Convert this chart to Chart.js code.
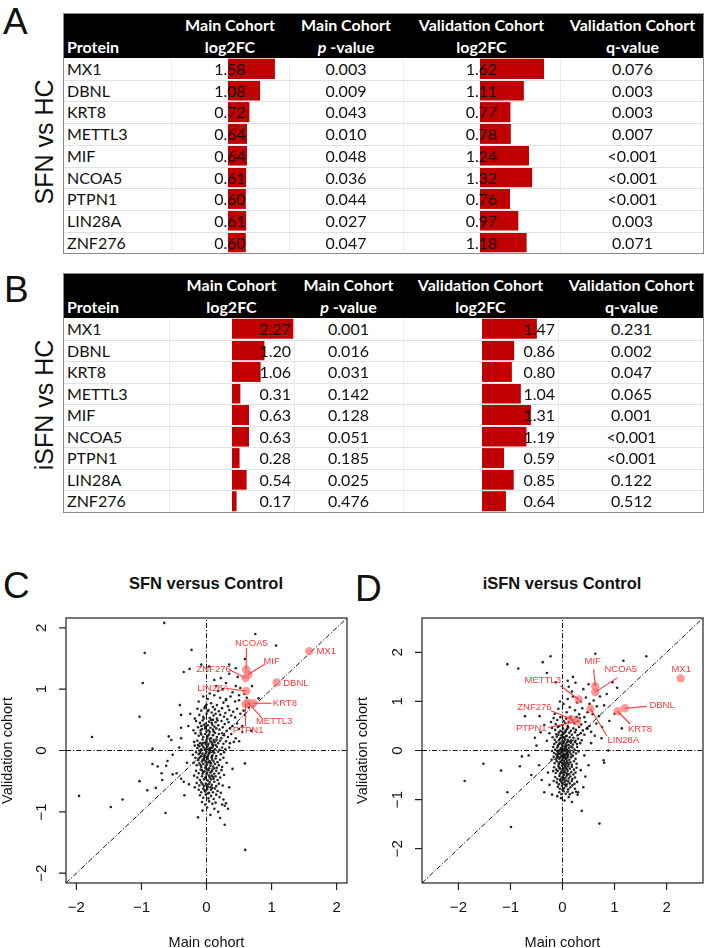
<!DOCTYPE html>
<html>
<head>
<meta charset="utf-8">
<script src="https://cdn.jsdelivr.net/npm/chart.js@4.4.0/dist/chart.umd.min.js"></script>
<style>
  body { margin: 0; width: 709px; height: 948px; position: relative; background: #fff; overflow: hidden; }
  .tbl { position: absolute; left: 63px; width: 641px; border: 1px solid #8a8a8a; box-sizing: border-box; font-family: Lato, "Open Sans", sans-serif; }
  .head { position: absolute; left: 0; top: 0; right: 0; height: 44px; background: #000; }
  .hc { position: absolute; height: 22px; line-height: 22px; color: #fff; font-weight: bold; font-size: 16px; white-space: nowrap; }
  .cell { position: absolute; color: #111; font-size: 16px; white-space: nowrap; z-index: 2; }
  .hline { position: absolute; left: 0; right: 0; height: 1px; background: #dde2e7; z-index: 3; }
  .vline { position: absolute; width: 1px; background: #e9edf1; }
  .bars { position: absolute; z-index: 1; }
  .letter { position: absolute; font-family: "Liberation Sans", Arial, sans-serif; font-size: 37px; color: #111; line-height: 1; }
  .side { position: absolute; font-family: "Liberation Sans", Arial, sans-serif; font-size: 25px; color: #111; transform: rotate(-90deg); transform-origin: center; white-space: nowrap; text-align: center; width: 140px; margin-left: -70px; line-height: 26px; margin-top: -13px; }
  .ptitle { position: absolute; font-family: "Liberation Sans", Arial, sans-serif; font-weight: bold; font-size: 16.5px; color: #111; width: 300px; margin-left: -150px; text-align: center; }
  canvas.sc { position: absolute; }
</style>
</head>
<body>
<div class="letter" style="left:3px;top:3px;">A</div>
<div class="letter" style="left:4px;top:271px;">B</div>
<div class="letter" style="left:3px;top:567px;">C</div>
<div class="letter" style="left:355px;top:570px;">D</div>
<div class="side" style="left:44px;top:142px;">SFN vs HC</div>
<div class="side" style="left:44px;top:405px;">iSFN vs HC</div>
<div class="ptitle" style="left:206px;top:574px;">SFN versus Control</div>
<div class="ptitle" style="left:562px;top:574px;">iSFN versus Control</div>
<canvas id="scC" class="sc" width="352" height="348" style="left:0;top:600px;"></canvas>
<canvas id="scD" class="sc" width="357" height="348" style="left:352px;top:600px;"></canvas>
<script>
const proteins = ['MX1', 'DBNL', 'KRT8', 'METTL3', 'MIF', 'NCOA5', 'PTPN1', 'LIN28A', 'ZNF276'];

// A: SFN vs HC
const sfnMainFC = [1.58, 1.08, 0.72, 0.64, 0.64, 0.61, 0.60, 0.61, 0.60];
const sfnMainP = ['0.003', '0.009', '0.043', '0.010', '0.048', '0.036', '0.044', '0.027', '0.047'];
const sfnValFC = [1.62, 1.11, 0.77, 0.78, 1.24, 1.32, 0.76, 0.97, 1.18];
const sfnValQ = ['0.076', '0.003', '0.003', '0.007', '<0.001', '<0.001', '<0.001', '0.003', '0.071'];

// B: iSFN vs HC
const isfnMainFC = [2.27, 1.20, 1.06, 0.31, 0.63, 0.63, 0.28, 0.54, 0.17];
const isfnMainP = ['0.001', '0.016', '0.031', '0.142', '0.128', '0.051', '0.185', '0.025', '0.476'];
const isfnValFC = [1.47, 0.86, 0.80, 1.04, 1.31, 1.19, 0.59, 0.85, 0.64];
const isfnValQ = ['0.231', '0.002', '0.047', '0.065', '0.001', '<0.001', '<0.001', '0.122', '0.512'];

const scatterTicks = [-2, -1, 0, 1, 2];

// all other proteins (main, validation)
const sfnOthers = [
  [-0.65,2.08],[-0.95,1.59],[-0.23,1.64],[-0.35,1.28],[-0.26,1.33],[-0.98,1.1],[-1.03,0.55],[-1.76,0.22],
  [-0.41,0.74],[-0.39,0.58],[-0.39,0.37],[-0.58,0.23],[-0.54,0.17],[-0.39,0.2],[-0.42,0.05],[-0.83,0.03],
  [-0.52,-0.07],[-0.6,-0.17],[-0.83,-0.22],[-0.75,-0.26],[-0.69,-0.37],[-0.62,-0.25],[-0.52,-0.39],[-0.46,-0.37],
  [-0.68,-0.48],[-1.03,-0.5],[-0.39,-0.46],[-0.35,-0.51],[-0.78,-0.61],[-0.91,-0.65],[-1.96,-0.74],[-0.34,-0.73],
  [-1.29,-0.8],[-1.47,-0.92],[-0.63,-1.02],[-0.13,-1.09],[0.75,1.9],[1.07,1.71],[0.59,1.49],[0.45,1.34],
  [0.04,1.37],[-0.08,1.4],[0.595,-1.62],[0.59,-0.21],[0.28,-1.21],[0.69,0.32],[0.59,0.58],[0.5,0.82],
  [0.3,0.84],[-0.28,0.4],[-0.3,-0.2],[-0.25,0.6],[-0.27,-0.55],[0.35,-0.6],[0.4,-0.3],[0.5,0.15],
  [0.55,0.4],[0.65,0.7],[0.8,0.85],[0.7,1.05],[0.35,1.4],[0.28,-0.9],[0.33,-0.95],
  [-0.05,0.88],[0.02,0.84],[0.12,0.9],[0.21,0.86],[0.3,0.82],[-0.12,0.8],[0.07,0.77],[0.16,0.74],[0.26,0.78],
  [0.37,0.88],[0.44,0.8],[-0.02,0.72],[0.1,0.71],[0.33,0.72],[0.05,0.93],[0.18,0.97],[0.25,1.0],[0.4,0.95],
  [0.5,0.9],[0.15,1.05],[0.3,1.1],[0.45,1.05],[0.52,1.02],[0.58,0.92],[0.62,0.86],[0.22,1.18],[0.35,1.25],
  [0.48,1.2],[0.12,1.15],
  [-0.14,0.68],[-0.08,0.65],[-0.03,0.69],[0.03,0.66],[0.08,0.62],[0.13,0.67],[0.19,0.64],[0.24,0.69],[0.29,0.61],
  [0.35,0.66],[0.41,0.63],[0.47,0.68],[-0.11,0.58],[-0.05,0.55],[0.0,0.6],[0.05,0.53],[0.11,0.57],[0.16,0.52],
  [0.21,0.58],[0.27,0.55],[0.32,0.51],[0.38,0.57],[0.44,0.54],[0.52,0.6],[0.57,0.65],[-0.18,0.52],[0.07,0.5],[0.02,0.64],
  [-0.16,0.48],[-0.1,0.45],[-0.06,0.49],[-0.01,0.44],[0.04,0.47],[0.09,0.42],[0.14,0.46],[0.18,0.41],[0.23,0.48],
  [0.28,0.43],[0.34,0.46],[0.4,0.4],[0.47,0.44],[-0.13,0.38],[-0.07,0.35],[-0.02,0.39],[0.03,0.33],[0.06,0.37],
  [0.11,0.31],[0.15,0.36],[0.2,0.34],[0.25,0.38],[0.31,0.32],[0.36,0.36],[0.5,0.35],[-0.2,0.33],[0.0,0.31],
  [0.08,0.45],[-0.04,0.42],[0.12,0.39],[0.17,0.49],[0.55,0.3],
  [-0.17,0.28],[-0.12,0.24],[-0.09,0.29],[-0.05,0.22],[-0.02,0.27],[0.01,0.21],[0.04,0.26],[0.07,0.2],[0.1,0.25],
  [0.13,0.29],[0.16,0.22],[0.19,0.27],[0.23,0.2],[0.27,0.25],[0.33,0.22],[0.38,0.27],[0.45,0.2],[-0.14,0.16],
  [-0.1,0.12],[-0.06,0.18],[-0.03,0.13],[0.0,0.17],[0.03,0.11],[0.06,0.15],[0.09,0.1],[0.12,0.14],[0.15,0.18],
  [0.18,0.12],[0.21,0.16],[0.26,0.11],[0.3,0.15],[0.36,0.12],[0.42,0.14],[-0.08,0.26],[0.02,0.24],[-0.01,0.1],
  [0.05,0.19],[0.11,0.17],[-0.19,0.14],[0.24,0.28],
  [-0.18,0.08],[-0.14,0.04],[-0.11,0.07],[-0.08,0.02],[-0.05,0.06],[-0.02,0.01],[0.01,0.05],[0.04,0.0],[0.07,0.04],
  [0.1,0.08],[0.13,0.02],[0.16,0.06],[0.2,0.01],[0.24,0.05],[0.29,0.02],[-0.16,-0.03],[-0.12,-0.06],[-0.09,-0.01],
  [-0.06,-0.05],[-0.03,-0.08],[0.0,-0.02],[0.03,-0.07],[0.06,-0.03],[0.09,-0.08],[0.12,-0.04],[0.15,-0.09],
  [0.18,-0.02],[0.22,-0.06],[0.27,-0.03],[-0.21,-0.07],[-0.07,0.09],[0.02,0.08],[0.08,-0.1],[-0.04,-0.1],
  [0.11,0.0],[-0.13,0.09],[0.14,0.09],[0.35,0.05],
  [-0.17,-0.12],[-0.13,-0.16],[-0.1,-0.11],[-0.07,-0.18],[-0.04,-0.13],[-0.01,-0.19],[0.02,-0.14],[0.05,-0.17],
  [0.08,-0.12],[0.11,-0.18],[0.14,-0.13],[0.17,-0.19],[0.21,-0.15],[0.26,-0.12],[-0.15,-0.24],[-0.11,-0.21],
  [-0.08,-0.27],[-0.05,-0.22],[-0.02,-0.28],[0.01,-0.23],[0.04,-0.29],[0.07,-0.21],[0.1,-0.26],[0.13,-0.22],
  [0.16,-0.28],[0.19,-0.24],[0.24,-0.27],[-0.2,-0.2],[0.0,-0.11],[0.06,-0.25],[-0.06,-0.15],[0.12,-0.29],[0.31,-0.2],
  [-0.16,-0.33],[-0.12,-0.37],[-0.09,-0.31],[-0.06,-0.38],[-0.03,-0.34],[0.0,-0.39],[0.03,-0.32],[0.06,-0.36],
  [0.09,-0.31],[0.12,-0.38],[0.15,-0.33],[0.19,-0.37],[0.23,-0.32],[-0.14,-0.44],[-0.1,-0.48],[-0.07,-0.42],
  [-0.04,-0.47],[-0.01,-0.43],[0.02,-0.49],[0.05,-0.44],[0.08,-0.41],[0.11,-0.46],[0.14,-0.42],[0.17,-0.48],
  [0.21,-0.44],[0.27,-0.4],[-0.19,-0.41],[0.0,-0.3],[0.07,-0.47],[-0.05,-0.35],
  [-0.15,-0.53],[-0.11,-0.57],[-0.08,-0.52],[-0.04,-0.58],[-0.01,-0.54],[0.02,-0.59],[0.05,-0.52],[0.08,-0.56],
  [0.12,-0.51],[0.15,-0.58],[0.19,-0.54],[0.25,-0.57],[-0.12,-0.64],[-0.08,-0.68],[-0.05,-0.62],[-0.02,-0.67],
  [0.01,-0.63],[0.04,-0.69],[0.07,-0.64],[0.1,-0.68],[0.13,-0.62],[0.17,-0.66],[0.22,-0.69],[0.03,-0.55],[-0.18,-0.6],
  [-0.1,-0.73],[-0.05,-0.77],[-0.01,-0.72],[0.03,-0.78],[0.07,-0.74],[0.11,-0.79],[0.15,-0.72],[0.2,-0.76],
  [0.26,-0.8],[-0.07,-0.84],[-0.02,-0.88],[0.04,-0.83],[0.09,-0.87],[0.14,-0.85],[0.24,-0.88],[0.3,-0.86],
  [0.01,-0.93],[0.12,-0.95],[0.18,-1.0],[0.06,-1.05],[0.21,-1.1],[-0.06,-0.98],
  [-0.09,0.33],[-0.02,0.36],[0.05,0.3],[0.1,0.34],[-0.06,0.12],[0.0,0.14],[0.08,0.13],[-0.11,0.0],[-0.03,0.03],
  [0.05,0.02],[0.09,0.05],[-0.1,-0.04],[-0.01,-0.05],[0.04,-0.04],[0.1,-0.02],[-0.08,-0.09],[0.02,-0.1],
  [-0.12,-0.13],[-0.03,-0.16],[0.03,-0.19],[0.09,-0.15],[-0.09,-0.24],[-0.01,-0.25],[0.06,-0.2],[-0.07,-0.32],
  [0.01,-0.36],[0.08,-0.34],[-0.02,-0.45],[0.04,-0.41],[0.1,-0.43],[-0.06,-0.55],[0.0,-0.57],[0.06,-0.6],
  [-0.03,-0.65],[0.09,-0.61],[0.02,-0.7],[-0.08,0.4],[0.02,0.41],[-0.04,0.52],[0.1,0.5],[0.0,0.75],[0.14,0.6]
];

// all other proteins (main, validation)
const isfnOthers = [
  [-1.67,2.85],[-0.23,1.92],[-0.38,1.8],[-1.06,1.76],[-0.85,1.67],[-0.3,1.58],[-0.13,1.39],[0.63,1.97],
  [1.17,1.83],[1.61,1.92],[0.1,1.42],[0.2,1.5],[-0.72,0.7],[-0.44,0.7],[-0.53,0.26],[-0.42,0.37],[-0.35,0.52],
  [-0.3,0.2],[-0.78,-0.12],[-0.82,-0.32],[-1.52,-0.27],[-1.18,-0.41],[-1.88,-0.62],[-1.06,-0.85],[-0.99,-1.56],
  [0.37,-1.23],[0.71,-1.49],[0.44,-0.53],[0.79,-0.2],[0.88,0.0],[1.14,0.45],[0.8,-0.25],[-0.6,-0.5],[-0.45,-0.3],
  [-0.28,-0.45],[-0.25,-0.7],[-0.35,-0.85],[-0.2,-0.9],[0.3,-0.85],[0.4,-0.75],[0.35,-0.4],[0.42,-0.1],[0.55,0.15],
  [0.62,0.3],[0.75,0.25],[0.9,0.6],[1.0,0.75],[-0.5,0.1],[-0.65,-0.1],[-0.4,-0.6],[0.5,-0.3],[0.48,0.45],
  [0.85,1.15],[1.05,1.28],[0.96,1.39],
  [0.02,0.95],[0.1,1.05],[0.2,1.1],[0.28,0.98],[0.35,1.0],[0.45,1.08],[0.52,0.95],[0.6,1.02],[0.66,0.9],
  [0.14,0.88],[0.24,0.82],[0.38,0.86],[0.48,0.78],[0.58,0.74],[0.7,0.7],[0.08,0.78],[0.32,0.74],[0.42,0.68],
  [-0.08,0.85],[-0.15,0.75],[0.18,1.2],[0.4,1.25],[0.5,1.35],[0.72,1.1],[0.8,0.92],[0.25,1.38],[-0.05,1.0],
  [0.12,1.3],[0.65,0.55],[0.76,0.48],
  [-0.17,0.66],[-0.1,0.62],[-0.04,0.68],[0.02,0.6],[0.07,0.65],[0.12,0.58],[0.18,0.62],[0.23,0.55],[0.3,0.6],
  [0.36,0.53],[0.44,0.58],[0.52,0.5],[-0.13,0.54],[-0.06,0.5],[0.0,0.52],[0.05,0.56],[0.1,0.5],[0.15,0.68],
  [0.27,0.68],[0.33,0.66],[-0.22,0.58],
  [-0.2,0.46],[-0.14,0.42],[-0.09,0.48],[-0.04,0.4],[0.01,0.45],[0.06,0.41],[0.11,0.47],[0.16,0.4],[0.21,0.45],
  [0.26,0.42],[0.32,0.48],[0.39,0.41],[0.47,0.45],[-0.12,0.33],[-0.07,0.37],[-0.02,0.31],[0.03,0.35],[0.08,0.3],
  [0.13,0.36],[0.18,0.32],[0.24,0.37],[0.29,0.31],[0.35,0.35],[0.42,0.32],[0.55,0.38],[-0.25,0.35],[0.0,0.38],[0.09,0.44],
  [-0.19,0.27],[-0.15,0.22],[-0.11,0.28],[-0.07,0.21],[-0.03,0.26],[0.0,0.2],[0.04,0.25],[0.07,0.29],[0.1,0.22],
  [0.14,0.27],[0.17,0.21],[0.21,0.26],[0.25,0.2],[0.3,0.24],[0.37,0.21],[-0.16,0.13],[-0.12,0.17],[-0.08,0.11],
  [-0.04,0.16],[-0.01,0.12],[0.03,0.18],[0.06,0.13],[0.09,0.17],[0.12,0.11],[0.16,0.16],[0.2,0.12],[0.24,0.17],
  [0.28,0.13],[0.34,0.15],[0.05,0.22],[-0.05,0.24],[0.13,0.19],[0.02,0.28],
  [-0.18,0.07],[-0.14,0.02],[-0.1,0.06],[-0.07,0.0],[-0.03,0.05],[0.0,0.09],[0.03,0.03],[0.06,0.07],[0.09,0.01],
  [0.12,0.05],[0.15,0.0],[0.19,0.06],[0.23,0.02],[0.28,0.07],[-0.16,-0.05],[-0.12,-0.08],[-0.08,-0.03],[-0.05,-0.07],
  [-0.01,-0.02],[0.02,-0.06],[0.05,-0.01],[0.08,-0.05],[0.11,-0.09],[0.14,-0.04],[0.17,-0.08],[0.21,-0.03],
  [0.26,-0.06],[0.31,-0.02],[-0.2,-0.01],[0.04,0.08],[0.1,-0.02],[-0.02,0.01],[0.07,-0.09],[0.16,0.08],[0.0,-0.1],[-0.09,0.09],
  [-0.17,-0.13],[-0.13,-0.18],[-0.09,-0.12],[-0.06,-0.17],[-0.02,-0.11],[0.01,-0.16],[0.04,-0.12],[0.07,-0.18],
  [0.1,-0.13],[0.13,-0.19],[0.16,-0.14],[0.2,-0.11],[0.25,-0.17],[-0.15,-0.26],[-0.11,-0.22],[-0.07,-0.28],
  [-0.04,-0.23],[0.0,-0.27],[0.03,-0.21],[0.06,-0.26],[0.09,-0.22],[0.12,-0.28],[0.15,-0.24],[0.18,-0.29],
  [0.22,-0.22],[0.27,-0.27],[-0.21,-0.19],[0.02,-0.29],[0.08,-0.15],[-0.01,-0.2],
  [-0.16,-0.34],[-0.12,-0.39],[-0.08,-0.32],[-0.05,-0.37],[-0.01,-0.31],[0.02,-0.36],[0.05,-0.33],[0.08,-0.38],
  [0.11,-0.32],[0.14,-0.37],[0.18,-0.33],[0.22,-0.39],[0.27,-0.35],[-0.13,-0.46],[-0.09,-0.42],[-0.05,-0.48],
  [-0.02,-0.43],[0.01,-0.47],[0.04,-0.41],[0.07,-0.46],[0.1,-0.42],[0.13,-0.48],[0.17,-0.44],[0.21,-0.49],
  [0.25,-0.45],[-0.18,-0.42],[0.03,-0.5],[0.06,-0.3],
  [-0.14,-0.54],[-0.1,-0.58],[-0.06,-0.52],[-0.03,-0.57],[0.0,-0.53],[0.03,-0.59],[0.06,-0.55],[0.09,-0.51],
  [0.12,-0.57],[0.15,-0.53],[0.19,-0.58],[0.24,-0.55],[-0.11,-0.65],[-0.07,-0.69],[-0.03,-0.63],[0.01,-0.68],
  [0.04,-0.64],[0.08,-0.69],[0.11,-0.63],[0.14,-0.67],[0.18,-0.62],[0.23,-0.68],[0.28,-0.64],[-0.17,-0.62],
  [-0.09,-0.74],[-0.05,-0.78],[-0.01,-0.72],[0.03,-0.77],[0.07,-0.73],[0.11,-0.79],[0.15,-0.75],[0.19,-0.71],
  [0.24,-0.78],[-0.06,-0.85],[-0.02,-0.89],[0.02,-0.83],[0.06,-0.88],[0.1,-0.84],[0.14,-0.89],[0.19,-0.86],
  [0.26,-0.84],[-0.03,-0.97],[0.04,-1.02],[0.12,-0.95],[0.18,-1.05],[-0.1,-0.93],[0.29,-0.9],
  [-0.08,0.32],[0.0,0.33],[0.06,0.38],[-0.06,0.14],[0.01,0.15],[0.08,0.1],[-0.1,-0.01],[-0.04,0.02],[0.02,0.0],
  [0.07,0.03],[-0.09,-0.06],[-0.03,-0.04],[0.03,-0.08],[0.09,-0.06],[-0.1,-0.15],[-0.04,-0.14],[0.02,-0.13],
  [0.06,-0.16],[-0.07,-0.25],[-0.02,-0.24],[0.04,-0.25],[0.1,-0.26],[-0.06,-0.35],[0.0,-0.38],[0.07,-0.35],
  [-0.03,-0.45],[0.03,-0.44],[0.09,-0.48],[-0.05,-0.6],[0.02,-0.56],[0.07,-0.61],[-0.01,-0.66],[0.05,-0.7],[0.0,-0.8]
];

// ---------- tables ----------
const HEAD_H = 44;

function barChart(canvas, values, max) {
  return new Chart(canvas, {
    type: 'bar',
    data: {
      labels: proteins,
      datasets: [{ data: values, backgroundColor: '#c00000', borderWidth: 0, barPercentage: 0.93, categoryPercentage: 1 }]
    },
    options: {
      indexAxis: 'y',
      responsive: false,
      animation: false,
      layout: { padding: 0 },
      plugins: { legend: { display: false }, tooltip: { enabled: false } },
      scales: { x: { display: false, min: 0, max: max }, y: { display: false } }
    }
  });
}

function buildTable(spec) {
  const n = proteins.length;
  const t = document.createElement('div');
  t.className = 'tbl';
  t.style.top = spec.top + 'px';
  t.style.height = (HEAD_H + spec.rowH * n + 2) + 'px';
  document.body.appendChild(t);

  const head = document.createElement('div');
  head.className = 'head';
  t.appendChild(head);

  const e = spec.edges;
  const heads = [['', 'Protein'], ['Main Cohort', 'log2FC'], ['Main Cohort', '<i>p</i> -value'],
                 ['Validation Cohort', 'log2FC'], ['Validation Cohort', 'q-value']];
  heads.forEach((h, c) => {
    h.forEach((txt, line) => {
      const d = document.createElement('div');
      d.className = 'hc';
      d.style.left = (e[c] + (c === 0 ? 3 : 0)) + 'px';
      d.style.width = (e[c + 1] - e[c]) + 'px';
      d.style.top = (line * 22) + 'px';
      d.style.textAlign = c === 0 ? 'left' : 'center';
      d.innerHTML = txt;
      head.appendChild(d);
    });
  });

  // grid lines
  for (let c = 1; c < 5; c++) {
    const v = document.createElement('div');
    v.className = 'vline';
    v.style.left = e[c] + 'px';
    v.style.top = HEAD_H + 'px';
    v.style.height = (spec.rowH * n) + 'px';
    t.appendChild(v);
  }
  for (let r = 1; r < n; r++) {
    const h = document.createElement('div');
    h.className = 'hline';
    h.style.top = (HEAD_H + r * spec.rowH) + 'px';
    t.appendChild(h);
  }

  // data bars
  spec.bars.forEach(b => {
    const cv = document.createElement('canvas');
    cv.className = 'bars';
    cv.width = b.width;
    cv.height = Math.round(spec.rowH * n);
    cv.style.left = b.left + 'px';
    cv.style.top = HEAD_H + 'px';
    t.appendChild(cv);
    barChart(cv, b.values, b.max);
  });

  const cols = [
    proteins,
    spec.mainFC.map(v => v.toFixed(2)),
    spec.mainP,
    spec.valFC.map(v => v.toFixed(2)),
    spec.valQ
  ];
  cols.forEach((col, c) => {
    col.forEach((txt, r) => {
      const d = document.createElement('div');
      d.className = 'cell';
      d.style.top = (HEAD_H + r * spec.rowH) + 'px';
      d.style.height = spec.rowH + 'px';
      d.style.lineHeight = spec.rowH + 'px';
      let align = 'center', left = e[c], width = e[c + 1] - e[c];
      if (c === 0) { align = 'left'; left += 3; }
      if ((c === 1 || c === 3) && spec.fcAlign === 'right') { align = 'right'; width -= 3; }
      d.style.left = left + 'px';
      d.style.width = width + 'px';
      d.style.textAlign = align;
      d.textContent = txt;
      t.appendChild(d);
    });
  });
}

buildTable({
  top: 13, rowH: 21.7, edges: [0, 107, 225, 339, 496, 641], fcAlign: 'center',
  mainFC: sfnMainFC, mainP: sfnMainP, valFC: sfnValFC, valQ: sfnValQ,
  bars: [{ left: 164, width: 60, max: 2.02, values: sfnMainFC },
         { left: 416, width: 79, max: 2.0, values: sfnValFC }]
});
buildTable({
  top: 273, rowH: 21.5, edges: [0, 105, 230, 339, 494, 641], fcAlign: 'right',
  mainFC: isfnMainFC, mainP: isfnMainP, valFC: isfnValFC, valQ: isfnValQ,
  bars: [{ left: 168, width: 62, max: 2.296, values: isfnMainFC },
         { left: 418, width: 75, max: 2.008, values: isfnValFC }]
});

// ---------- scatter plots ----------
const RED = 'rgb(255,55,55)';
const FONT = '"Liberation Sans", Arial, Helvetica, sans-serif';

// label placement for the highlighted proteins (text anchor, optional leader start)
const layoutC = {
  MX1:    { tx: 1.69, ty: 1.62, align: 'left' },
  DBNL:   { tx: 1.18, ty: 1.10, align: 'left' },
  NCOA5:  { tx: 0.69, ty: 1.75, lx: 0.615, ly: 1.67 },
  MIF:    { tx: 1.0,  ty: 1.45, lx: 0.9, ly: 1.41 },
  ZNF276: { tx: 0.11, ty: 1.33, lx: 0.35, ly: 1.32 },
  LIN28A: { tx: 0.10, ty: 1.01, lx: 0.32, ly: 1.01 },
  KRT8:   { tx: 1.02, ty: 0.77, align: 'left', lx: 1.0, ly: 0.77 },
  METTL3: { tx: 1.04, ty: 0.47, lx: 0.85, ly: 0.53 },
  PTPN1:  { tx: 0.64, ty: 0.32, lx: 0.6, ly: 0.39 }
};
const layoutD = {
  MX1:    { tx: 2.28, ty: 1.66 },
  DBNL:   { tx: 1.67, ty: 0.91, align: 'left', lx: 1.62, ly: 0.9 },
  KRT8:   { tx: 1.49, ty: 0.44, lx: 1.3, ly: 0.54 },
  METTL3: { tx: -0.38, ty: 1.42, lx: -0.04, ly: 1.32 },
  MIF:    { tx: 0.58, ty: 1.82, lx: 0.6, ly: 1.65 },
  NCOA5:  { tx: 1.12, ty: 1.66, lx: 1.05, ly: 1.48 },
  PTPN1:  { tx: -0.6, ty: 0.45, lx: -0.27, ly: 0.47 },
  LIN28A: { tx: 1.17, ty: 0.2, lx: 0.85, ly: 0.3 },
  ZNF276: { tx: -0.54, ty: 0.88, lx: -0.22, ly: 0.81 }
};

const rStyle = {
  id: 'rStyle',
  afterDraw(chart, args, o) {
    const { ctx, chartArea: a, scales: { x, y } } = chart;
    ctx.save();
    // box
    ctx.strokeStyle = '#222';
    ctx.lineWidth = 1.2;
    ctx.strokeRect(a.left, a.top, a.right - a.left, a.bottom - a.top);
    // axes ticks + labels
    ctx.fillStyle = '#111';
    ctx.font = '15px ' + FONT;
    ctx.textAlign = 'center';
    ctx.textBaseline = 'middle';
    ctx.beginPath();
    scatterTicks.forEach(v => {
      const px = x.getPixelForValue(v);
      ctx.moveTo(px, a.bottom); ctx.lineTo(px, a.bottom + 7);
      const py = y.getPixelForValue(v);
      ctx.moveTo(a.left, py); ctx.lineTo(a.left - 7, py);
    });
    ctx.stroke();
    scatterTicks.forEach(v => {
      const s = v < 0 ? '\u2212' + Math.abs(v) : String(v);
      ctx.fillText(s, x.getPixelForValue(v), a.bottom + 25);
      ctx.save();
      ctx.translate(a.left - 24, y.getPixelForValue(v));
      ctx.rotate(-Math.PI / 2);
      ctx.fillText(s, 0, 0);
      ctx.restore();
    });
    ctx.font = '14.5px ' + FONT;
    ctx.fillText('Main cohort', (a.left + a.right) / 2, a.bottom + 60);
    ctx.save();
    ctx.translate(o.yTitleX, (a.top + a.bottom) / 2);
    ctx.rotate(-Math.PI / 2);
    ctx.fillText('Validation cohort', 0, 0);
    ctx.restore();

    // protein labels with leader lines
    ctx.font = '9.5px ' + FONT;
    ctx.strokeStyle = RED;
    ctx.fillStyle = RED;
    ctx.lineWidth = 1.1;
    proteins.forEach((p, i) => {
      const L = o.layout[p];
      const px = x.getPixelForValue(o.mx[i]), py = y.getPixelForValue(o.vx[i]);
      if (L.lx !== undefined) {
        ctx.beginPath();
        ctx.moveTo(x.getPixelForValue(L.lx), y.getPixelForValue(L.ly));
        ctx.lineTo(px, py);
        ctx.stroke();
      }
      ctx.textAlign = L.align || 'center';
      ctx.fillText(p, x.getPixelForValue(L.tx), y.getPixelForValue(L.ty));
    });
    ctx.restore();
  }
};

function scatterChart(id, others, mx, vx, lim, layout, yAxisW, rightPad, yTitleX) {
  const dash = [5, 2, 1.2, 2];
  const refLine = pts => ({
    data: pts, showLine: true, borderColor: '#111', borderWidth: 1, borderDash: dash,
    pointRadius: 0, order: 1
  });
  return new Chart(document.getElementById(id), {
    type: 'scatter',
    data: {
      datasets: [
        { data: proteins.map((p, i) => ({ x: mx[i], y: vx[i] })), pointRadius: 4.2,
          backgroundColor: 'rgba(255,110,110,0.7)', borderWidth: 0, order: 0 },
        refLine([{ x: 0, y: -lim }, { x: 0, y: lim }]),
        refLine([{ x: -lim, y: 0 }, { x: lim, y: 0 }]),
        refLine([{ x: -lim, y: -lim }, { x: lim, y: lim }]),
        { data: others.map(([a, b]) => ({ x: a, y: b })), pointRadius: 1.3,
          backgroundColor: 'rgba(15,15,15,0.9)', borderWidth: 0, order: 2, clip: false }
      ]
    },
    options: {
      responsive: false,
      animation: false,
      layout: { padding: { top: 18, right: rightPad, left: 0, bottom: 0 } },
      plugins: {
        legend: { display: false }, tooltip: { enabled: false },
        rStyle: { layout: layout, mx: mx, vx: vx, yTitleX: yTitleX }
      },
      scales: {
        x: { type: 'linear', min: -lim, max: lim, ticks: { display: false }, grid: { display: false },
             border: { display: false }, afterFit(s) { s.height = 65; } },
        y: { type: 'linear', min: -lim, max: lim, ticks: { display: false }, grid: { display: false },
             border: { display: false }, afterFit(s) { s.width = yAxisW; } }
      }
    },
    plugins: [rStyle]
  });
}

scatterChart('scC', sfnOthers, sfnMainFC, sfnValFC, 2.16, layoutC, 66, 5, 8);
scatterChart('scD', isfnOthers, isfnMainFC, isfnValFC, 2.7, layoutD, 70, 6, 11);
</script>
</body>
</html>
